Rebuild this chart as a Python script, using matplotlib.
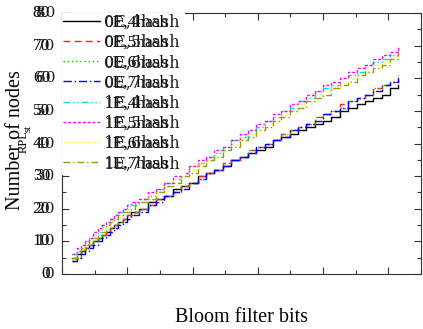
import matplotlib
matplotlib.use('Agg')
import matplotlib.pyplot as plt
from matplotlib.ticker import MultipleLocator, NullFormatter
from matplotlib.transforms import offset_copy

# bloom filter size (x) and number of nodes for every configuration
bits = [160, 224, 288, 352, 416, 480, 544, 608, 672, 736,
        800, 864, 928, 992, 1056, 1120, 1184, 1312, 1440, 1568,
        1696, 1824, 1952, 2080, 2208, 2336, 2464, 2592, 2720, 2848,
        2976, 3104, 3232, 3360, 3488, 3616, 3744, 3872, 4000, 4128,
        4256, 4384, 4512, 4640, 4768, 4896, 5024, 5152]

e0_h4 = [5, 6, 7, 8, 9, 10, 11, 12, 13, 14, 15, 16, 17, 18, 19, 19, 20,
         22, 23, 24, 26, 27, 28, 30, 31, 32, 33, 35, 36, 37, 38, 39, 41, 42, 43, 44,
         45, 46, 47, 48, 50, 51, 52, 53, 54, 55, 57, 58]
e0_h5 = [4, 5, 7, 8, 9, 10, 11, 12, 13, 14, 15, 16, 17, 18, 18, 19, 20,
         21, 23, 24, 25, 27, 28, 30, 31, 32, 34, 35, 36, 38, 39, 40, 41, 43, 44, 45,
         46, 48, 49, 50, 52, 53, 54, 55, 57, 58, 59, 61]
e0_h6 = [4, 5, 7, 8, 9, 10, 11, 12, 13, 14, 15, 16, 17, 18, 18, 19, 20,
         21, 23, 24, 25, 27, 28, 29, 31, 32, 34, 35, 36, 38, 39, 40, 41, 43, 44, 45,
         46, 48, 49, 50, 51, 53, 54, 55, 57, 58, 59, 61]
e0_h7 = [4, 5, 6, 7, 8, 9, 10, 11, 12, 13, 14, 15, 16, 17, 18, 18, 19,
         21, 22, 24, 25, 26, 28, 29, 31, 32, 33, 35, 36, 37, 39, 40, 41, 42, 44, 45,
         46, 47, 49, 50, 51, 53, 54, 55, 56, 58, 59, 60]
e1_h4 = [6, 7, 8, 10, 11, 12, 13, 15, 16, 17, 18, 19, 20, 21, 21, 22, 23,
         24, 26, 28, 29, 31, 33, 34, 36, 37, 39, 41, 42, 44, 45, 47, 48, 50, 51, 53,
         54, 56, 57, 58, 60, 61, 62, 64, 65, 66, 67, 69]
e1_h5 = [6, 8, 9, 10, 11, 13, 14, 15, 16, 17, 18, 19, 20, 21, 22, 22, 23,
         25, 26, 28, 30, 31, 33, 35, 36, 38, 39, 41, 43, 44, 46, 47, 49, 50, 52, 53,
         55, 56, 58, 59, 60, 62, 63, 64, 66, 67, 68, 70]
e1_h6 = [5, 7, 8, 9, 10, 12, 13, 14, 15, 16, 17, 18, 19, 20, 21, 21, 22,
         24, 25, 27, 29, 30, 32, 34, 35, 37, 38, 40, 42, 43, 44, 46, 47, 49, 50, 52,
         53, 55, 56, 57, 59, 60, 61, 62, 64, 65, 66, 68]
e1_h7 = [5, 7, 8, 9, 10, 11, 12, 13, 15, 16, 17, 18, 19, 19, 20, 21, 22,
         23, 25, 27, 28, 30, 31, 33, 35, 36, 38, 39, 41, 42, 44, 45, 47, 48, 50, 51,
         53, 54, 55, 57, 58, 59, 61, 62, 63, 64, 66, 68]

series = [e0_h4, e0_h5, e0_h6, e0_h7, e1_h4, e1_h5, e1_h6, e1_h7]
labels = ['0E,4hash', '0E,5hash', '0E,6hash', '0E,7hash',
          '1E,4hash', '1E,5hash', '1E,6hash', '1E,7hash']
colors = ['black', '#ff2020', '#00d000', '#0000ff',
          '#00e0e0', '#ff00ff', '#ffff00', '#9a9a10']
styles = ['-', (0, (5, 3)), (0, (1, 2)), (0, (6, 2, 1, 2)),
          (0, (5, 2, 1, 2, 1, 2)), (0, (2, 1.5)), (0, (1, 1.5)), (0, (5, 2, 1, 2))]
y_ticks = [0, 10, 20, 30, 40, 50, 60, 70, 80]

W, H = 423, 329
L, R, T, B = 62, 421, 13, 274   # axes box in pixels

fig = plt.figure(figsize=(W / 100, H / 100), dpi=100)
ax = fig.add_axes([L / W, 1 - B / H, (R - L) / W, (B - T) / H])

def ax_x(px):
    return (px - L) / (R - L)

def ax_y(py):
    return (B - py) / (B - T)

for ys, lab, c, ls in zip(series, labels, colors, styles):
    ax.plot(bits, ys, color=c, linestyle=ls, lw=1.0, drawstyle='steps-post')

ax.set_xlim(0, 5500)
ax.set_ylim(0, 80)
ax.xaxis.set_major_locator(MultipleLocator(1000))
ax.xaxis.set_minor_locator(MultipleLocator(500))
ax.yaxis.set_major_locator(MultipleLocator(10))
ax.yaxis.set_minor_locator(MultipleLocator(5))
ax.xaxis.set_major_formatter(NullFormatter())
ax.yaxis.set_major_formatter(NullFormatter())
ax.tick_params(which='both', direction='in', top=True, right=True, width=0.8, color='#333333')
ax.tick_params(which='major', length=5)
ax.tick_params(which='minor', length=3)
for sp in ax.spines.values():
    sp.set_linewidth(0.8)
    sp.set_color('#333333')

# y tick labels, drawn by hand: the reference shows every label twice, in two fonts
ytrans = ax.get_yaxis_transform()
for v in y_ticks:
    ax.text(0, v, str(v), transform=offset_copy(ytrans, fig, x=-12, y=0, units='dots'),
            ha='right', va='center', fontfamily='Liberation Serif', fontsize=12.5, clip_on=False)
    ax.text(0, v, str(v), transform=offset_copy(ytrans, fig, x=-7, y=0, units='dots'),
            ha='right', va='center', fontfamily='DejaVu Serif', fontsize=11,
            color='#222222', clip_on=False)

# legend: white box over the curves, sample lines and doubled labels
ax.add_patch(plt.Rectangle((0, ax_y(175)), ax_x(185), 1 - ax_y(175),
                           transform=ax.transAxes, facecolor='white', edgecolor='none', zorder=3))
for i, (lab, c, ls) in enumerate(zip(labels, colors, styles)):
    yl = ax_y(20.7 + 20.2 * i)
    ax.plot([ax_x(63), ax_x(100)], [yl, yl], transform=ax.transAxes,
            color=c, linestyle=ls, lw=1.0, zorder=4)
    yt = ax_y(22.5 + 20.2 * i)
    ax.text(ax_x(104), yt, lab, transform=ax.transAxes, ha='left', va='center',
            fontfamily='Liberation Serif', fontsize=12.5, zorder=5)
    ax.text(ax_x(104), yt, lab, transform=ax.transAxes, ha='left', va='center',
            fontfamily='DejaVu Serif', fontsize=11.5, color='#222222', zorder=5)

# axis titles
fig.text(16 / W, 1 - 140 / H, 'Number of nodes', rotation=90, ha='center', va='center',
         fontfamily='Liberation Serif', fontsize=14.5)
fig.text(24 / W, 1 - 142 / H, 'RPL', rotation=90, ha='center', va='center',
         fontfamily='Liberation Serif', fontsize=9)
fig.text(28 / W, 1 - 128 / H, 'st', rotation=90, ha='center', va='center',
         fontfamily='Liberation Serif', fontsize=7.5)
fig.text(241 / W, 1 - 317 / H, 'Bloom filter bits', ha='center', va='center',
         fontfamily='Liberation Serif', fontsize=14.5)

fig.savefig('out.png', dpi=100)
